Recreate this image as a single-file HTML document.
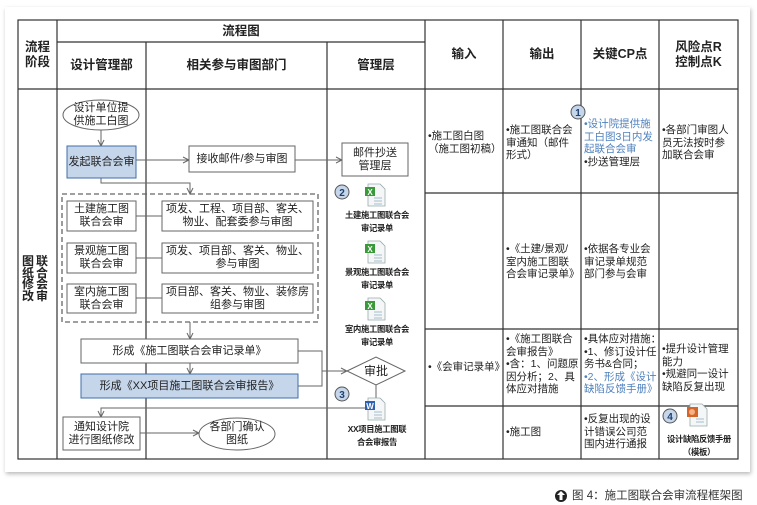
<!DOCTYPE html>
<html><head><meta charset="utf-8">
<style>
*{margin:0;padding:0;box-sizing:border-box}
body{width:757px;height:505px;background:#fff;position:relative;overflow:hidden;font-family:"Liberation Sans","Noto Sans CJK SC",sans-serif;color:#222}
.t{position:absolute;font-size:11px;line-height:13px;text-align:center;display:flex;align-items:center;justify-content:center}
.h{font-weight:bold;font-size:12.5px;line-height:15px}
.c{position:absolute;font-size:10.5px;line-height:12.5px;text-align:left;white-space:nowrap}
.b{color:#4f81bd}
.lab{position:absolute;font-size:8.3px;font-weight:bold;line-height:13px;text-align:center;letter-spacing:-0.3px}
.v{position:absolute;font-weight:bold;font-size:12px;line-height:11.5px;width:14px;text-align:center}
</style></head><body>
<svg width="757" height="505" style="position:absolute;left:0;top:0">
<defs>
<marker id="a" markerWidth="8" markerHeight="8" refX="7" refY="4" orient="auto" markerUnits="userSpaceOnUse"><path d="M1,1 L7,4 L1,7" fill="none" stroke="#666" stroke-width="1"/></marker>
<filter id="sh"><feDropShadow dx="1" dy="2" stdDeviation="2" flood-color="#888" flood-opacity="0.6"/></filter>
<g id="xl"><path d="M0,0 h12 l5,5 v17 h-17z" fill="#f4f6f8" stroke="#9aa" stroke-width="0.8"/><rect x="-3" y="3" width="10" height="9" fill="#3a9a3a"/><text x="2" y="11" font-size="8" fill="#fff" font-weight="bold" text-anchor="middle" font-family="Liberation Sans">X</text><path d="M6,14h8M6,17h8M6,20h8" stroke="#8ab" stroke-width="0.8"/></g>
</defs>
<rect x="5" y="7" width="745" height="465" fill="#fff" filter="url(#sh)"/>
<g stroke="#333" stroke-width="1.2" fill="none">
<rect x="18" y="20" width="720" height="439"/>
<line x1="57" y1="20" x2="57" y2="459"/>
<line x1="146" y1="42" x2="146" y2="459"/>
<line x1="327" y1="42" x2="327" y2="459"/>
<line x1="425" y1="20" x2="425" y2="459"/>
<line x1="503" y1="20" x2="503" y2="459"/>
<line x1="581" y1="20" x2="581" y2="459"/>
<line x1="659" y1="20" x2="659" y2="459"/>
<line x1="57" y1="42" x2="425" y2="42"/>
<line x1="18" y1="89" x2="738" y2="89"/>
<line x1="425" y1="193" x2="738" y2="193"/>
<line x1="425" y1="329" x2="738" y2="329"/>
<line x1="425" y1="406" x2="738" y2="406"/>
</g>
<g stroke="#666" stroke-width="1" fill="none">
<ellipse cx="101" cy="115" rx="38" ry="15" fill="#fff"/>
<line x1="101" y1="130" x2="101" y2="146" marker-end="url(#a)"/>
<line x1="136" y1="160" x2="189" y2="160" marker-end="url(#a)"/>
<line x1="295" y1="160" x2="342" y2="160" marker-end="url(#a)"/>
<polyline points="101,178 101,183 190,183 190,194" marker-end="url(#a)"/>
<rect x="62" y="194" width="256" height="128" stroke-dasharray="5,3" stroke-width="1.3"/>
<line x1="136" y1="216" x2="162" y2="216"/>
<line x1="136" y1="258" x2="162" y2="258"/>
<line x1="136" y1="298" x2="162" y2="298"/>
<line x1="190" y1="322" x2="190" y2="339" marker-end="url(#a)"/>
<line x1="190" y1="363" x2="190" y2="374" marker-end="url(#a)"/>
<polyline points="298,351 322,351 322,386 298,386"/>
<line x1="322" y1="371" x2="347" y2="371" marker-end="url(#a)"/>
<polygon points="347,371 376,357 405,371 376,385" fill="#fff"/>
<line x1="376" y1="385" x2="376" y2="398"/>
<polyline points="368,408 101,408 101,417" marker-end="url(#a)"/>
<line x1="140" y1="433" x2="199" y2="433" marker-end="url(#a)"/>
<ellipse cx="237" cy="434" rx="38" ry="16" fill="#fff"/>
</g>
<g stroke="#666" stroke-width="1">
<rect x="67" y="146" width="69" height="32" fill="#c5d5ea" stroke="#3f6fa8"/>
<rect x="189" y="146" width="106" height="26" fill="#fff"/>
<rect x="342" y="143" width="66" height="33" fill="#fff"/>
<rect x="67" y="201" width="69" height="30" fill="#fff"/>
<rect x="162" y="201" width="151" height="30" fill="#fff"/>
<rect x="67" y="243" width="69" height="30" fill="#fff"/>
<rect x="162" y="243" width="151" height="30" fill="#fff"/>
<rect x="67" y="284" width="69" height="29" fill="#fff"/>
<rect x="162" y="284" width="151" height="29" fill="#fff"/>
<rect x="81" y="339" width="217" height="24" fill="#fff"/>
<rect x="81" y="374" width="217" height="24" fill="#c5d5ea" stroke="#3f6fa8"/>
<rect x="63" y="417" width="77" height="33" fill="#fff"/>
</g>
<use href="#xl" x="368" y="184"/>
<use href="#xl" x="368" y="241"/>
<use href="#xl" x="368" y="298"/>
<g><path d="M368,398 h12 l5,5 v17 h-17z" fill="#f4f6f8" stroke="#9aa" stroke-width="0.8"/><rect x="365" y="401" width="10" height="9" fill="#2f5fb0"/><text x="370" y="409" font-size="8" fill="#fff" font-weight="bold" text-anchor="middle">W</text><path d="M374,412h8M374,415h8M374,418h8" stroke="#8ab" stroke-width="0.8"/></g>
<g><path d="M690,404 h12 l5,5 v17 h-17z" fill="#f4f6f8" stroke="#9aa" stroke-width="0.8"/><rect x="687" y="407" width="11" height="10" fill="#d5642a"/><circle cx="692" cy="412" r="3" fill="#f4b183"/><path d="M696,419h8M696,422h8" stroke="#8ab" stroke-width="0.8"/></g>
<g font-weight="bold" font-size="10" fill="#1f3f6f" text-anchor="middle" font-family="Liberation Sans">
<circle cx="342" cy="192" r="7" fill="#c5d5ea" stroke="#555"/><text x="342" y="196">2</text>
<circle cx="342" cy="394" r="7" fill="#c5d5ea" stroke="#555"/><text x="342" y="398">3</text>
<circle cx="578" cy="112" r="7" fill="#c5d5ea" stroke="#555"/><text x="578" y="116">1</text>
<circle cx="670" cy="416" r="7" fill="#c5d5ea" stroke="#555"/><text x="670" y="420">4</text>
</g>
<circle cx="561" cy="496" r="6" fill="#222"/><path d="M561,491 l-4,4 h2.5 v5 h3 v-5 h2.5z" fill="#fff"/>
</svg>

<div class="t h" style="left:18px;top:20px;width:39px;height:69px">流程<br>阶段</div>
<div class="t h" style="left:57px;top:20px;width:368px;height:22px">流程图</div>
<div class="t h" style="left:57px;top:42px;width:89px;height:47px">设计管理部</div>
<div class="t h" style="left:146px;top:42px;width:181px;height:47px">相关参与审图部门</div>
<div class="t h" style="left:327px;top:42px;width:98px;height:47px">管理层</div>
<div class="t h" style="left:425px;top:20px;width:78px;height:69px">输入</div>
<div class="t h" style="left:503px;top:20px;width:78px;height:69px">输出</div>
<div class="t h" style="left:581px;top:20px;width:78px;height:69px">关键CP点</div>
<div class="t h" style="left:659px;top:20px;width:79px;height:69px">风险点R<br>控制点K</div>
<div class="v" style="left:35px;top:256px">联<br>合<br>会<br>审</div>
<div class="v" style="left:21px;top:256px">图<br>纸<br>修<br>改</div>

<div class="t" style="left:63px;top:100px;width:76px;height:30px">设计单位提<br>供施工白图</div>
<div class="t" style="left:67px;top:146px;width:69px;height:32px">发起联合会审</div>
<div class="t" style="left:189px;top:146px;width:106px;height:26px">接收邮件/参与审图</div>
<div class="t" style="left:342px;top:143px;width:66px;height:33px">邮件抄送<br>管理层</div>
<div class="t" style="left:67px;top:201px;width:69px;height:30px">土建施工图<br>联合会审</div>
<div class="t" style="left:162px;top:201px;width:151px;height:30px">项发、工程、项目部、客关、<br>物业、配套委参与审图</div>
<div class="t" style="left:67px;top:243px;width:69px;height:30px">景观施工图<br>联合会审</div>
<div class="t" style="left:162px;top:243px;width:151px;height:30px">项发、项目部、客关、物业、<br>参与审图</div>
<div class="t" style="left:67px;top:284px;width:69px;height:29px">室内施工图<br>联合会审</div>
<div class="t" style="left:162px;top:284px;width:151px;height:29px">项目部、客关、物业、装修房<br>组参与审图</div>
<div class="t" style="left:81px;top:339px;width:217px;height:24px">形成《施工图联合会审记录单》</div>
<div class="t" style="left:81px;top:374px;width:217px;height:24px">形成《XX项目施工图联合会审报告》</div>
<div class="t" style="left:347px;top:357px;width:58px;height:28px;font-size:12px">审批</div>
<div class="t" style="left:63px;top:417px;width:77px;height:33px">通知设计院<br>进行图纸修改</div>
<div class="t" style="left:199px;top:418px;width:76px;height:32px">各部门确认<br>图纸</div>

<div class="lab" style="left:330px;top:209px;width:94px">土建施工图联合会<br>审记录单</div>
<div class="lab" style="left:330px;top:266px;width:94px">景观施工图联合会<br>审记录单</div>
<div class="lab" style="left:330px;top:323px;width:94px">室内施工图联合会<br>审记录单</div>
<div class="lab" style="left:330px;top:423px;width:94px">XX项目施工图联<br>合会审报告</div>
<div class="lab" style="left:660px;top:433px;width:78px">设计缺陷反馈手册<br>（模板）</div>

<div class="c" style="left:428px;top:130px">•施工图白图<br>（施工图初稿）</div>
<div class="c" style="left:506px;top:124px">•施工图联合会<br>审通知（邮件<br>形式）</div>
<div class="c" style="left:584px;top:118px"><span class="b">•设计院提供施<br>工白图3日内发<br>起联合会审</span><br>•抄送管理层</div>
<div class="c" style="left:662px;top:124px">•各部门审图人<br>员无法按时参<br>加联合会审</div>
<div class="c" style="left:506px;top:243px">•《土建/景观/<br>室内施工图联<br>合会审记录单》</div>
<div class="c" style="left:584px;top:243px">•依据各专业会<br>审记录单规范<br>部门参与会审</div>
<div class="c" style="left:428px;top:361px">•《会审记录单》</div>
<div class="c" style="left:506px;top:333px">•《施工图联合<br>会审报告》<br>•含：1、问题原<br>因分析；2、具<br>体应对措施</div>
<div class="c" style="left:584px;top:333px">•具体应对措施：<br>•1、修订设计任<br>务书&amp;合同；<br><span class="b">•2、形成《设计<br>缺陷反馈手册》</span></div>
<div class="c" style="left:662px;top:343px">•提升设计管理<br>能力<br>•规避同一设计<br>缺陷反复出现</div>
<div class="c" style="left:506px;top:426px">•施工图</div>
<div class="c" style="left:584px;top:413px">•反复出现的设<br>计错误公司范<br>围内进行通报</div>

<div style="position:absolute;left:572px;top:489px;font-size:11.5px;line-height:14px;color:#333;white-space:nowrap">图 4：施工图联合会审流程框架图</div>
</body></html>
